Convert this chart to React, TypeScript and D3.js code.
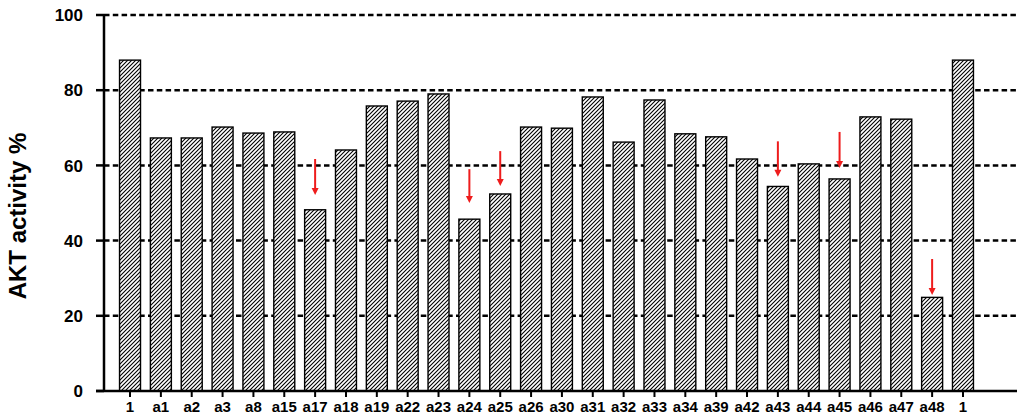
import * as d3 from "d3";
import React from "react";

const categories = [
  "1", "a1", "a2", "a3", "a8", "a15", "a17", "a18", "a19", "a22", "a23", "a24", "a25", "a26", "a30",
  "a31", "a32", "a33", "a34", "a39", "a42", "a43", "a44", "a45", "a46", "a47", "a48", "1 ",
];
// last "1" gets a trailing space so the band scale keeps it as its own slot
const values = [
  88.0, 67.3, 67.3, 70.2, 68.6, 68.9, 48.2, 64.1, 75.8, 77.1, 79.0, 45.7, 52.4, 70.2, 69.9,
  78.2, 66.2, 77.4, 68.4, 67.6, 61.7, 54.4, 60.4, 56.4, 72.9, 72.3, 24.9, 88.0,
];
const yTicks = [0, 20, 40, 60, 80, 100];

// red arrows: category, start value, end value
const arrowCats = ["a17", "a24", "a25", "a43", "a45", "a48"];
const arrowFrom = [61.7, 59.0, 63.8, 66.4, 68.9, 35.1];
const arrowTo = [52.1, 50.0, 54.5, 57.0, 59.3, 25.5];

const W = 1024;
const H = 417;
const font = "'Liberation Sans', Arial, sans-serif";

const App = () => {
  const x = d3
    .scaleBand()
    .domain(categories)
    .range([114.6, 978.4])
    .paddingInner(0.32)
    .paddingOuter(0.16);

  const y = d3.scaleLinear().domain([0, 100]).range([391, 15]);

  const axisX = 104;
  const gridEnd = 1017;

  return (
    <svg width={W} height={H} style={{ position: "absolute", left: 0, top: 0, background: "#fff" }}>
      <defs>
        <pattern id="hatch" patternUnits="userSpaceOnUse" width="4" height="4">
          <rect width="4" height="4" fill="#fff" />
          <path d="M-1,1 L1,-1 M0,4 L4,0 M3,5 L5,3" stroke="#000" strokeWidth="1.1" />
        </pattern>
      </defs>

      {/* dashed grid */}
      {yTicks
        .filter((t) => t > 0)
        .map((t) => (
          <line
            key={"g" + t}
            x1={axisX}
            x2={gridEnd}
            y1={y(t)}
            y2={y(t)}
            stroke="#000"
            strokeWidth={2.5}
            strokeDasharray="5.5,3.3"
          />
        ))}

      {/* bars */}
      {categories.map((c, i) => (
        <rect
          key={"b" + i}
          x={x(c)}
          y={y(values[i])}
          width={x.bandwidth()}
          height={y(0) - y(values[i])}
          fill="url(#hatch)"
          stroke="#000"
          strokeWidth={1.4}
        />
      ))}

      {/* arrows */}
      {arrowCats.map((c, i) => {
        const cx = (x(c) as number) + x.bandwidth() / 2;
        const y1 = y(arrowFrom[i]);
        const y2 = y(arrowTo[i]);
        return (
          <g key={"a" + i}>
            <line x1={cx} x2={cx} y1={y1} y2={y2 - 6} stroke="#ee1c1c" strokeWidth={2} />
            <path d={`M${cx - 3.5},${y2 - 7} L${cx + 3.5},${y2 - 7} L${cx},${y2} Z`} fill="#ee1c1c" />
          </g>
        );
      })}

      {/* y axis */}
      <line x1={axisX} x2={axisX} y1={y(100) - 1} y2={y(0)} stroke="#000" strokeWidth={2.5} />
      {yTicks.map((t) => (
        <g key={"yt" + t}>
          <line x1={axisX - 8} x2={axisX} y1={y(t)} y2={y(t)} stroke="#000" strokeWidth={2.5} />
          <text
            x={83}
            y={y(t)}
            dy="0.36em"
            textAnchor="end"
            fontFamily={font}
            fontWeight="bold"
            fontSize={17}
          >
            {t}
          </text>
        </g>
      ))}
      <text
        transform={`translate(26,${216}) rotate(-90)`}
        textAnchor="middle"
        fontFamily={font}
        fontWeight="bold"
        fontSize={24}
      >
        AKT activity %
      </text>

      {/* x axis */}
      <line x1={96} x2={gridEnd} y1={y(0)} y2={y(0)} stroke="#000" strokeWidth={2.5} />
      {categories.map((c, i) => {
        const cx = (x(c) as number) + x.bandwidth() / 2;
        return (
          <g key={"xt" + i}>
            <line x1={cx} x2={cx} y1={y(0)} y2={y(0) + 6} stroke="#000" strokeWidth={2} />
            <text x={cx} y={412} textAnchor="middle" fontFamily={font} fontWeight="bold" fontSize={15}>
              {c.trim()}
            </text>
          </g>
        );
      })}
    </svg>
  );
};

export default App;
